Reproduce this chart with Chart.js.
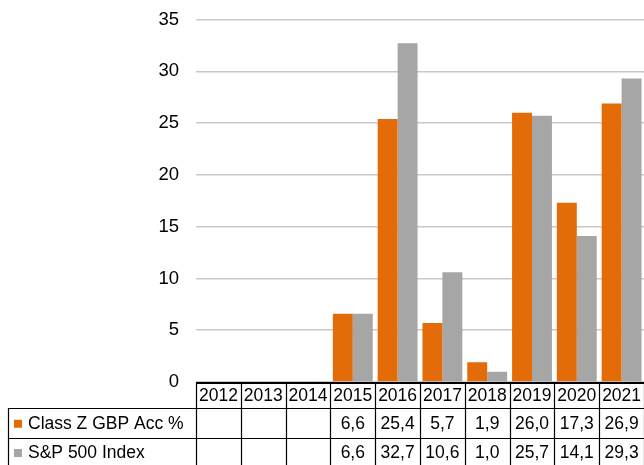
<!DOCTYPE html>
<html>
<head>
<meta charset="utf-8">
<script src="https://cdn.jsdelivr.net/npm/chart.js@4/dist/chart.umd.min.js"></script>
<style>
  html, body { margin: 0; padding: 0; background: #fff; }
  #wrap { width: 644px; height: 465px; position: relative; }
</style>
</head>
<body>
<div id="wrap"><canvas id="c"></canvas></div>
<script>
const years = ['2012', '2013', '2014', '2015', '2016', '2017', '2018', '2019', '2020', '2021'];
const classZ = [null, null, null, 6.6, 25.4, 5.7, 1.9, 26.0, 17.3, 26.9];
const sp500 = [null, null, null, 6.6, 32.7, 10.6, 1.0, 25.7, 14.1, 29.3];
const seriesNames = ['Class Z GBP Acc %', 'S&P 500 Index'];
const colors = ['#e36c09', '#a6a6a6'];

const FONT = '"Liberation Sans", Arial, sans-serif';

// draws the data table under the plot, lined up with the x scale
const tablePlugin = {
    id: 'dataTable',
    afterDraw(chart) {
        const { ctx, chartArea } = chart;
        const x = chart.scales.x;
        const top = chartArea.bottom;
        const row1 = 408;
        const row2 = 437.5;
        const end = 470;
        const tableLeft = 8;
        const w = x.getPixelForValue(1) - x.getPixelForValue(0);
        const edges = years.map((_, i) => x.getPixelForValue(i) - w / 2);
        edges.push(x.getPixelForValue(years.length - 1) + w / 2);

        ctx.save();
        ctx.strokeStyle = '#000';
        ctx.lineWidth = 1.2;

        // vertical cell borders
        edges.forEach(e => {
            ctx.beginPath();
            ctx.moveTo(Math.round(e) + 0.5, top);
            ctx.lineTo(Math.round(e) + 0.5, end);
            ctx.stroke();
        });
        ctx.beginPath();
        ctx.moveTo(tableLeft + 0.5, row1);
        ctx.lineTo(tableLeft + 0.5, end);
        ctx.stroke();

        // horizontal borders
        [row1, row2].forEach(y => {
            ctx.beginPath();
            ctx.moveTo(tableLeft, Math.round(y) + 0.5);
            ctx.lineTo(chartArea.right, Math.round(y) + 0.5);
            ctx.stroke();
        });

        // axis line
        ctx.lineWidth = 2;
        ctx.beginPath();
        ctx.moveTo(chartArea.left, top + 1);
        ctx.lineTo(chartArea.right, top + 1);
        ctx.stroke();

        ctx.fillStyle = '#000';
        ctx.font = '17.5px ' + FONT;
        ctx.textAlign = 'center';
        ctx.textBaseline = 'middle';
        years.forEach((y, i) => {
            ctx.fillText(y, x.getPixelForValue(i), (top + row1) / 2 + 1.5);
        });

        const rows = [classZ, sp500];
        const rowMid = [(row1 + row2) / 2 + 1, row2 + 15.5];
        rows.forEach((vals, r) => {
            ctx.fillStyle = colors[r];
            ctx.fillRect(14, rowMid[r] - 4, 8, 8);
            ctx.fillStyle = '#000';
            ctx.textAlign = 'left';
            ctx.fillText(seriesNames[r], 28, rowMid[r]);
            ctx.textAlign = 'center';
            vals.forEach((v, i) => {
                if (v === null) return;
                ctx.fillText(v.toFixed(1).replace('.', ','), x.getPixelForValue(i), rowMid[r]);
            });
        });
        ctx.restore();
    },
};

new Chart(document.getElementById('c'), {
    type: 'bar',
    data: {
        labels: years,
        datasets: [
            { label: seriesNames[0], data: classZ, backgroundColor: colors[0] },
            { label: seriesNames[1], data: sp500, backgroundColor: colors[1] },
        ],
    },
    options: {
        responsive: true,
        maintainAspectRatio: false,
        devicePixelRatio: 1,
        animation: false,
        layout: { padding: { top: 19.5, bottom: 83, left: 0, right: 0 } },
        datasets: { bar: { categoryPercentage: 0.89, barPercentage: 1.0 } },
        plugins: { legend: { display: false }, tooltip: { enabled: false } },
        scales: {
            x: { display: false },
            y: {
                min: 0,
                max: 35,
                ticks: { stepSize: 5, padding: 17, color: '#000', font: { family: FONT, size: 18.5 } },
                grid: { color: '#c8c8c8', lineWidth: 1.5, drawTicks: false },
                border: { display: false },
                afterFit(scale) {
                    scale.width = 196;
                    scale.paddingTop = 0;
                    scale.paddingBottom = 0;
                },
            },
        },
    },
    plugins: [tablePlugin],
});
</script>
</body>
</html>
